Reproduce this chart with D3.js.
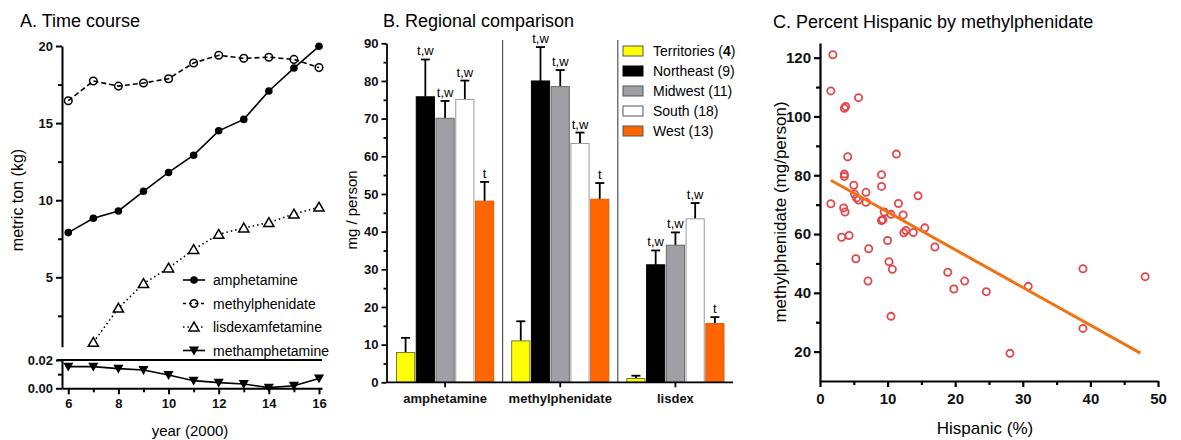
<!DOCTYPE html>
<html>
<head>
<meta charset="utf-8">
<script src="https://cdn.jsdelivr.net/npm/d3@7"></script>
<style>
  body { margin: 0; background: #fff; }
  svg { font-family: Arial, "Liberation Sans", sans-serif; }
  .tick text { font-weight: bold; fill: #111; }
</style>
</head>
<body>
<svg width="1181" height="440"></svg>
<script>
// ---- data: panel A (time course, metric ton) ----
const years = [6, 7, 8, 9, 10, 11, 12, 13, 14, 15, 16]
const amphetamine = [7.9, 8.83, 9.3, 10.58, 11.8, 12.92, 14.5, 15.24, 17.08, 18.57, 19.98]
const methylphenidate = [16.45, 17.73, 17.4, 17.6, 17.88, 18.9, 19.4, 19.2, 19.27, 19.13, 18.6]
const lisdexYears = [7, 8, 9, 10, 11, 12, 13, 14, 15, 16]
const lisdexamfetamine = [0.78, 3.0, 4.59, 5.6, 6.8, 7.79, 8.2, 8.55, 9.1, 9.55]
const methamphetamine = [0.0153, 0.0153, 0.0139, 0.0129, 0.0094, 0.0054, 0.004, 0.003, 0.0005, 0.0018, 0.007]
const yearTicks = [6, 8, 10, 12, 14, 16]

// ---- data: panel B (regional comparison, mg / person) ----
const drugs = ["amphetamine", "methylphenidate", "lisdex"]
const regions = ["Territories", "Northeast", "Midwest", "South", "West"]
const regionN = [4, 9, 11, 18, 13]
const regionMeans = {
  amphetamine:     [7.9, 75.8, 70.1, 75.1, 48.1],
  methylphenidate: [11.0, 80.0, 78.5, 63.4, 48.6],
  lisdex:          [1.0, 31.2, 36.4, 43.4, 15.6]
}
const regionErr = {
  amphetamine:     [11.8, 85.7, 74.7, 80.1, 53.2],
  methylphenidate: [16.2, 89.0, 82.9, 66.3, 52.9],
  lisdex:          [1.75, 35.0, 39.8, 47.6, 17.3]
}
const sigLabels = ["", "t,w", "t,w", "t,w", "t"]

// ---- data: panel C (Hispanic % vs methylphenidate mg/person) ----
const hispanic = [1.9, 1.6, 3.6, 3.8, 5.7, 4.1, 11.3, 3.6, 3.6, 9.1, 9.1, 5.0, 6.8, 5.1, 5.4, 5.7, 6.8, 1.6,
  14.5, 11.6, 3.5, 3.7, 9.5, 10.5, 12.3, 9.1, 9.3, 12.7, 12.4, 13.8, 15.5, 3.2, 4.3, 10.0, 17.0, 7.2, 5.3,
  10.2, 10.7, 18.9, 21.4, 19.8, 24.6, 7.1, 10.5, 30.8, 38.9, 38.9, 48.1, 28.1]
const methPerPerson = [121, 108.7, 102.8, 103.4, 106.4, 86.3, 87.2, 80.4, 79.6, 80.2, 76.2, 76.6, 74.2, 73.6,
  72.3, 71.6, 70.8, 70.3, 73.0, 70.4, 68.9, 67.5, 67.5, 66.7, 66.5, 64.6, 64.9, 61.2, 60.4, 60.5, 62.1,
  58.9, 59.5, 57.8, 55.6, 55.0, 51.6, 50.6, 48.0, 47.0, 44.0, 41.3, 40.4, 44.0, 32.0, 42.2, 48.2, 27.9, 45.5, 19.4]
const fitX = [1.6, 47.4]
const fitY = [78.3, 19.5]

const svg = d3.select("svg")

function styleAxis(g, w, fs) {
  g.select(".domain").attr("stroke", "#000").attr("stroke-width", w)
  g.selectAll(".tick line").attr("stroke", "#000").attr("stroke-width", w)
  g.selectAll(".tick text").style("font-size", fs + "px")
}

// ================= Panel A =================
function drawPanelA() {
  const x = d3.scaleLinear().domain([5.75, 16.12]).range([62, 322])
  const yU = d3.scaleLinear().domain([0.5, 20]).range([346.7, 46])
  const yL = d3.scaleLinear().domain([0, 0.02]).range([388.3, 360])

  svg.append("text").attr("x", 20).attr("y", 27).style("font-size", "18px").text("A. Time course")

  // upper y axis
  const ga = svg.append("g").attr("transform", "translate(62,0)")
    .call(d3.axisLeft(yU).tickValues([5, 10, 15, 20]).tickSize(6).tickPadding(3).tickSizeOuter(0))
  styleAxis(ga, 2, 13)
  const gam = svg.append("g").attr("transform", "translate(62,0)")
    .call(d3.axisLeft(yU).tickValues([2.5, 7.5, 12.5, 17.5]).tickSize(4).tickFormat("").tickSizeOuter(0))
  styleAxis(gam, 2, 13)
  gam.select(".domain").remove()

  // lower y axis
  const gl = svg.append("g").attr("transform", "translate(62,0)")
    .call(d3.axisLeft(yL).tickValues([0, 0.02]).tickFormat(d3.format(".2f")).tickSize(6).tickPadding(3).tickSizeOuter(0))
  styleAxis(gl, 2, 13)
  const glm = svg.append("g").attr("transform", "translate(62,0)")
    .call(d3.axisLeft(yL).tickValues([0.01]).tickSize(4).tickFormat("").tickSizeOuter(0))
  styleAxis(glm, 2, 13)
  glm.select(".domain").remove()

  // top border of the lower panel
  svg.append("line").attr("x1", 57).attr("x2", 322).attr("y1", yL(0.02)).attr("y2", yL(0.02))
    .attr("stroke", "#000").attr("stroke-width", 2)

  // x axis
  const gx = svg.append("g").attr("transform", "translate(0," + yL(0) + ")")
    .call(d3.axisBottom(x).tickValues(yearTicks).tickSize(6).tickPadding(4).tickSizeOuter(0))
  styleAxis(gx, 2, 13)
  const gxm = svg.append("g").attr("transform", "translate(0," + yL(0) + ")")
    .call(d3.axisBottom(x).tickValues([7, 9, 11, 13, 15]).tickSize(4).tickFormat("").tickSizeOuter(0))
  styleAxis(gxm, 2, 13)
  gxm.select(".domain").remove()

  svg.append("text").attr("x", 190).attr("y", 436).attr("text-anchor", "middle")
    .style("font-size", "15px").text("year (2000)")
  svg.append("text").attr("transform", "translate(23,200) rotate(-90)").attr("text-anchor", "middle")
    .style("font-size", "16px").text("metric ton (kg)")

  const line = (xs, ys, yScale) => d3.line().x((d, i) => x(xs[i])).y(d => yScale(d))(ys)

  svg.append("path").attr("d", line(years, amphetamine, yU)).attr("fill", "none")
    .attr("stroke", "#000").attr("stroke-width", 1.6)
  svg.append("path").attr("d", line(years, methylphenidate, yU)).attr("fill", "none")
    .attr("stroke", "#000").attr("stroke-width", 1.6).attr("stroke-dasharray", "5,3")
  svg.append("path").attr("d", line(lisdexYears, lisdexamfetamine, yU)).attr("fill", "none")
    .attr("stroke", "#000").attr("stroke-width", 1.6).attr("stroke-dasharray", "1.5,3")
  svg.append("path").attr("d", line(years, methamphetamine, yL)).attr("fill", "none")
    .attr("stroke", "#000").attr("stroke-width", 1.6)

  const tri = d3.symbol().type(d3.symbolTriangle).size(45)

  svg.append("g").selectAll("circle").data(amphetamine).join("circle")
    .attr("cx", (d, i) => x(years[i])).attr("cy", d => yU(d)).attr("r", 3.8).attr("fill", "#000")
  svg.append("g").selectAll("circle").data(methylphenidate).join("circle")
    .attr("cx", (d, i) => x(years[i])).attr("cy", d => yU(d)).attr("r", 3.8)
    .attr("fill", "none").attr("stroke", "#000").attr("stroke-width", 1.5)
  svg.append("g").selectAll("path").data(lisdexamfetamine).join("path")
    .attr("d", tri).attr("transform", (d, i) => "translate(" + x(lisdexYears[i]) + "," + (yU(d) + 1) + ")")
    .attr("fill", "#fff").attr("stroke", "#000").attr("stroke-width", 1.5)
  svg.append("g").selectAll("path").data(methamphetamine).join("path")
    .attr("d", tri).attr("transform", (d, i) => "translate(" + x(years[i]) + "," + (yL(d) - 1) + ") rotate(180)")
    .attr("fill", "#000")

  // legend
  const names = ["amphetamine", "methylphenidate", "lisdexamfetamine", "methamphetamine"]
  const dashes = [null, "3,3", "1.5,3", null]
  const lg = svg.append("g")
  names.forEach((n, i) => {
    const yy = 280 + i * 23.5
    lg.append("line").attr("x1", 183).attr("x2", 205).attr("y1", yy).attr("y2", yy)
      .attr("stroke", "#000").attr("stroke-width", 1.6).attr("stroke-dasharray", dashes[i])
    if (i == 0) lg.append("circle").attr("cx", 194).attr("cy", yy).attr("r", 3.8).attr("fill", "#000")
    if (i == 1) lg.append("circle").attr("cx", 194).attr("cy", yy).attr("r", 3.8).attr("fill", "none").attr("stroke", "#000").attr("stroke-width", 1.5)
    if (i == 2) lg.append("path").attr("d", tri).attr("transform", "translate(194," + (yy + 1) + ")")
      .attr("fill", "#fff").attr("stroke", "#000").attr("stroke-width", 1.5)
    if (i == 3) lg.append("path").attr("d", tri).attr("transform", "translate(194," + (yy - 1) + ") rotate(180)").attr("fill", "#000")
    lg.append("text").attr("x", 213).attr("y", yy + 5).style("font-size", "14px").text(n)
  })
}

// ================= Panel B =================
function drawPanelB() {
  const y = d3.scaleLinear().domain([0, 90]).range([382.3, 43.3])
  const x0 = d3.scaleBand().domain(drugs).range([387.5, 733]).padding(0)
  const x1 = d3.scaleBand().domain(regions).range([9, x0.bandwidth() - 9]).paddingInner(0.08)
  const fills = ["#ffff00", "#000000", "#a0a0a4", "#ffffff", "#ff6600"]
  const strokes = ["#7a7a30", "#000000", "#6a6a6a", "#9a9a9a", "#e05a10"]

  svg.append("text").attr("x", 383).attr("y", 27).style("font-size", "18px").text("B. Regional comparison")

  // separators
  drugs.slice(1).forEach(d => {
    svg.append("line").attr("x1", x0(d)).attr("x2", x0(d)).attr("y1", 40).attr("y2", y(0))
      .attr("stroke", "#333").attr("stroke-width", 1)
  })

  drugs.forEach(dr => {
    const g = svg.append("g").attr("transform", "translate(" + x0(dr) + ",0)")
    regions.forEach((r, i) => {
      const v = regionMeans[dr][i], e = regionErr[dr][i]
      const cx = x1(r) + x1.bandwidth() / 2
      g.append("line").attr("x1", cx).attr("x2", cx).attr("y1", y(v)).attr("y2", y(e))
        .attr("stroke", "#000").attr("stroke-width", 1.8)
      g.append("line").attr("x1", cx - 4.5).attr("x2", cx + 4.5).attr("y1", y(e)).attr("y2", y(e))
        .attr("stroke", "#000").attr("stroke-width", 1.8)
      g.append("rect").attr("x", x1(r)).attr("width", x1.bandwidth())
        .attr("y", y(v)).attr("height", y(0) - y(v))
        .attr("fill", fills[i]).attr("stroke", strokes[i]).attr("stroke-width", 1)
      if (sigLabels[i])
        g.append("text").attr("x", cx).attr("y", y(e) - 4).attr("text-anchor", "middle")
          .style("font-size", "13px").text(sigLabels[i])
    })
  })

  const gy = svg.append("g").attr("transform", "translate(386.5,0)")
    .call(d3.axisLeft(y).tickValues(d3.range(0, 91, 10)).tickSize(5).tickPadding(3).tickSizeOuter(0))
  styleAxis(gy, 1.8, 13)
  const gym = svg.append("g").attr("transform", "translate(386.5,0)")
    .call(d3.axisLeft(y).tickValues(d3.range(5, 90, 10)).tickSize(3).tickFormat("").tickSizeOuter(0))
  styleAxis(gym, 1.8, 13)
  gym.select(".domain").remove()

  const gx = svg.append("g").attr("transform", "translate(0," + y(0) + ")")
    .call(d3.axisBottom(x0).tickSize(5).tickPadding(6).tickSizeOuter(0))
  styleAxis(gx, 1.8, 13)
  gx.select(".domain").attr("d", "M386.5,0H733")

  svg.append("text").attr("transform", "translate(357,210) rotate(-90)").attr("text-anchor", "middle")
    .style("font-size", "15px").text("mg / person")

  // legend
  regions.forEach((r, i) => {
    const yy = 51 + i * 20
    svg.append("rect").attr("x", 623).attr("y", yy - 5).attr("width", 20).attr("height", 10)
      .attr("fill", fills[i]).attr("stroke", i == 1 ? "#000" : "#555").attr("stroke-width", 1)
    const t = svg.append("text").attr("x", 653).attr("y", yy + 5).style("font-size", "14px")
    t.append("tspan").text(r + " (")
    t.append("tspan").style("font-weight", i == 0 ? "bold" : "normal").text(regionN[i])
    t.append("tspan").text(")")
  })
}

// ================= Panel C =================
function drawPanelC() {
  const x = d3.scaleLinear().domain([0, 50]).range([820, 1158])
  const y = d3.scaleLinear().domain([10, 125]).range([381, 43])

  svg.append("text").attr("x", 773).attr("y", 28).style("font-size", "18px")
    .text("C. Percent Hispanic by methylphenidate")

  const gy = svg.append("g").attr("transform", "translate(820,0)")
    .call(d3.axisLeft(y).tickValues([20, 40, 60, 80, 100, 120]).tickSize(6).tickPadding(3).tickSizeOuter(0))
  styleAxis(gy, 2.2, 15)
  const gym = svg.append("g").attr("transform", "translate(820,0)")
    .call(d3.axisLeft(y).tickValues([30, 50, 70, 90, 110]).tickSize(4).tickFormat("").tickSizeOuter(0))
  styleAxis(gym, 2.2, 15)
  gym.select(".domain").remove()

  const gx = svg.append("g").attr("transform", "translate(0,381)")
    .call(d3.axisBottom(x).tickValues([0, 10, 20, 30, 40, 50]).tickSize(6).tickPadding(6).tickSizeOuter(0))
  styleAxis(gx, 2.2, 15)
  const gxm = svg.append("g").attr("transform", "translate(0,381)")
    .call(d3.axisBottom(x).tickValues([5, 15, 25, 35, 45]).tickSize(4).tickFormat("").tickSizeOuter(0))
  styleAxis(gxm, 2.2, 15)
  gxm.select(".domain").remove()

  svg.append("text").attr("x", 985).attr("y", 434).attr("text-anchor", "middle")
    .style("font-size", "17px").text("Hispanic (%)")
  svg.append("text").attr("transform", "translate(786,212) rotate(-90)").attr("text-anchor", "middle")
    .style("font-size", "17px").text("methylphenidate (mg/person)")

  svg.append("g").selectAll("circle").data(hispanic).join("circle")
    .attr("cx", d => x(d)).attr("cy", (d, i) => y(methPerPerson[i])).attr("r", 3.6)
    .attr("fill", "none").attr("stroke", "#e0474c").attr("stroke-width", 1.8)

  svg.append("path")
    .attr("d", d3.line().x(d => x(d)).y((d, i) => y(fitY[i]))(fitX))
    .attr("stroke", "#ef7215").attr("stroke-width", 3).attr("fill", "none")
}

drawPanelA()
drawPanelB()
drawPanelC()
</script>
</body>
</html>
